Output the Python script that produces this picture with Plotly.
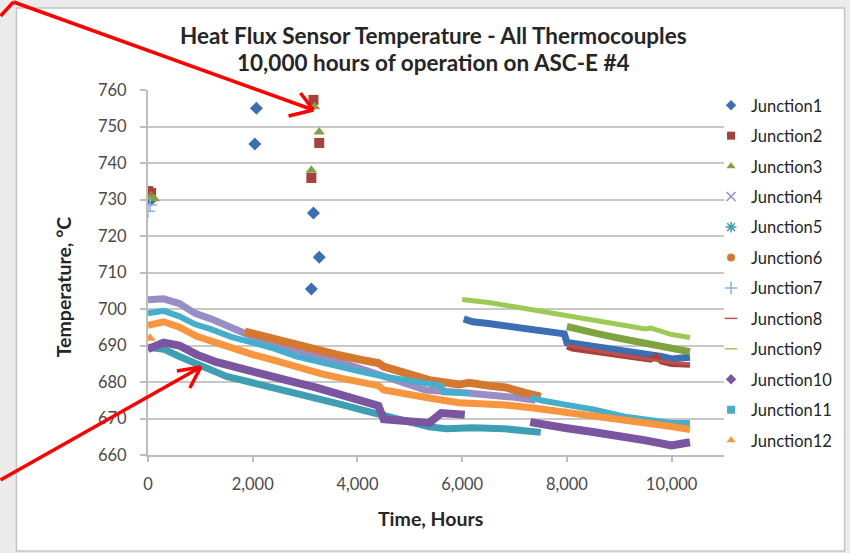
import plotly.graph_objects as go

# ---------------- data ----------------
names = ["Junction%d" % i for i in range(1, 13)]
colors = ["#3C6EB4", "#A8403C", "#7FA33F", "#9A8CC4", "#3E9FB2", "#D4772F",
          "#8EB0DC", "#C0504D", "#9CCB55", "#7B55A0", "#46AECB", "#F7963E"]
symbols = ["diamond", "square", "triangle-up", "x-thin-open", "asterisk-open", "circle",
           "cross-thin-open", "line-ew-open", "line-ew-open", "diamond", "square", "triangle-up"]

# isolated points (hours, degC)
J1_pts_x = [0, 60, 2040, 2070, 3120, 3160, 3270]
J1_pts_y = [730.5, 730.0, 745.2, 755.0, 705.5, 726.3, 714.2]
J2_pts_x = [0, 60, 3120, 3160, 3270]
J2_pts_y = [732.3, 731.8, 735.9, 757.3, 745.5]
J3_pts_x = [0, 60, 120, 3120, 3180, 3270]
J3_pts_y = [730.6, 731.0, 730.2, 738.0, 755.4, 748.5]
J7_pts_x = [0, 40]
J7_pts_y = [726.8, 728.5]
J8_pts_x = [0]
J8_pts_y = [731.5]
J12_pts_x = [40]
J12_pts_y = [692.0]

# dense bands (hours, degC)
J1_x = [6030, 6200, 6500, 6800, 7100, 7400, 7700, 7950, 8000, 8300, 8600, 8900, 9200, 9500, 9800, 10000, 10200, 10350]
J1_y = [697.3, 696.5, 696.0, 695.4, 694.8, 694.2, 693.6, 693.2, 690.8, 690.2, 689.5, 689.0, 688.3, 687.9, 687.0, 686.3, 686.4, 686.8]
J2_x = [8000, 8100, 8400, 8800, 9200, 9600, 9700, 9800, 10000, 10200, 10350]
J2_y = [689.6, 689.0, 688.4, 687.6, 686.8, 686.0, 687.2, 685.5, 684.8, 684.5, 684.6]
J3_x = [8000, 8300, 8600, 9000, 9400, 9800, 10100, 10350]
J3_y = [695.2, 694.0, 693.2, 692.0, 691.0, 690.0, 689.0, 688.3]
J4_x = [0, 300, 600, 900, 1200, 1500, 1800, 2100, 2500, 2900, 3300, 3700, 4100, 4500, 4900, 5300, 6100, 6600, 7000, 7400]
J4_y = [702.5, 702.8, 701.5, 698.8, 697.3, 695.3, 693.5, 691.8, 690.2, 688.7, 687.0, 685.3, 683.5, 681.5, 679.5, 677.8, 677.0, 676.5, 675.8, 675.0]
J5_x = [0, 300, 600, 900, 1200, 1500, 2000, 2400, 2830, 3300, 3700, 4100, 4600, 5000, 5370, 5700, 6200, 6800, 7300, 7500]
J5_y = [689.5, 689.0, 687.0, 685.0, 683.2, 681.5, 679.8, 678.5, 677.0, 675.3, 673.8, 672.3, 670.3, 669.0, 667.7, 667.2, 667.5, 667.2, 666.5, 666.2]
J6_x = [1850, 2200, 2500, 2830, 3200, 3600, 4100, 4400, 4500, 4900, 5370, 5940, 6130, 6500, 6830, 7200, 7500]
J6_y = [693.8, 692.5, 691.3, 690.2, 688.9, 687.5, 686.0, 685.2, 684.2, 682.3, 680.5, 679.3, 679.8, 679.0, 678.5, 677.0, 676.0]
J8_x = [8000, 9000, 10000, 10350]
J8_y = [690.0, 687.5, 685.3, 685.0]
J9_x = [6000, 6500, 7000, 7500, 8000, 8500, 9000, 9500, 9600, 10000, 10350]
J9_y = [702.6, 701.8, 700.6, 699.4, 698.2, 697.0, 695.8, 694.5, 694.8, 693.0, 692.2]
J10_x = [0, 300, 600, 930, 1300, 1670, 2000, 2400, 2830, 3200, 3600, 4100, 4400, 4500, 4900, 5370, 5600, 6050, None,
         7300, 7600, 7970, 8500, 9000, 9500, 10000, 10350]
J10_y = [689.0, 690.8, 690.0, 687.5, 685.5, 684.0, 683.0, 681.5, 679.8, 678.5, 677.0, 675.0, 673.5, 669.8, 669.3, 668.8, 671.5, 671.0, None,
         669.0, 668.5, 667.4, 666.3, 665.3, 664.0, 662.6, 663.5]
J11_x = [0, 300, 600, 900, 1200, 1600, 2000, 2400, 2830, 3300, 3700, 4100, 4500, 4900, 5370, 5600, 5650, 6000, 6150, None,
         7300, 7500, 7970, 8500, 9110, 9500, 10000, 10350]
J11_y = [698.8, 699.5, 698.0, 695.8, 694.5, 692.3, 690.8, 689.2, 687.0, 685.3, 684.0, 682.7, 681.5, 680.5, 679.7, 679.0, 677.2, 677.0, 677.0, None,
         675.8, 675.0, 673.8, 672.5, 670.5, 669.6, 668.8, 668.8]
J12_x = [0, 300, 600, 930, 1300, 1670, 2000, 2400, 2830, 3300, 3700, 4100, 4400, 4500, 4900, 5370, 5940, 6400, 6830, 7400,
         7970, 8500, 9110, 9600, 10000, 10350]
J12_y = [695.5, 696.5, 695.0, 692.5, 690.8, 688.8, 687.5, 686.0, 684.0, 682.3, 681.0, 679.8, 679.0, 677.8, 677.0, 675.6, 674.3, 674.2, 673.7, 672.8,
         671.8, 670.8, 669.6, 668.8, 667.8, 667.0]

x_ticks = [0, 2000, 4000, 6000, 8000, 10000]
x_ticktext = ["0", "2,000", "4,000", "6,000", "8,000", "10,000"]
y_ticks = [660, 670, 680, 690, 700, 710, 720, 730, 740, 750, 760]

title_line1 = "Heat Flux Sensor Temperature - All Thermocouples"
title_line2 = "10,000 hours of operation on ASC-E #4"
x_title = "Time, Hours"
y_title = "Temperature, °C"

# ---------------- geometry helpers (pixels -> paper) ----------------
W, H = 850, 553
L, R, T, B = 148, 726, 90, 455


def PX(px):
    return (px - L) / (R - L)


def PY(py):
    return (B - py) / (B - T)


FONT = "Lato"
fig = go.Figure()

THIN = ("x-thin-open", "asterisk-open", "cross-thin-open", "line-ew-open")

# legend entries (markers only, as in the spreadsheet legend)
for i, n in enumerate(names):
    msize = 8
    mline = dict(width=0)
    if symbols[i] in THIN:
        mline = dict(width=1.5, color=colors[i])
        msize = 9
    fig.add_trace(go.Scatter(x=[None], y=[None], mode="markers", name=n, legendgroup=n,
                             marker=dict(symbol=symbols[i], color=colors[i], size=msize, line=mline)))

bands = {
    "Junction1": (J1_x, J1_y, 7), "Junction2": (J2_x, J2_y, 5), "Junction3": (J3_x, J3_y, 7),
    "Junction4": (J4_x, J4_y, 7), "Junction5": (J5_x, J5_y, 7), "Junction6": (J6_x, J6_y, 8),
    "Junction8": (J8_x, J8_y, 3), "Junction9": (J9_x, J9_y, 5), "Junction10": (J10_x, J10_y, 8),
    "Junction11": (J11_x, J11_y, 6), "Junction12": (J12_x, J12_y, 7),
}
points = {
    "Junction1": (J1_pts_x, J1_pts_y), "Junction2": (J2_pts_x, J2_pts_y), "Junction3": (J3_pts_x, J3_pts_y),
    "Junction7": (J7_pts_x, J7_pts_y), "Junction8": (J8_pts_x, J8_pts_y), "Junction12": (J12_pts_x, J12_pts_y),
}

for i, n in enumerate(names):
    if n in bands:
        bx, by, w = bands[n]
        fig.add_trace(go.Scatter(x=bx, y=by, mode="lines", legendgroup=n, showlegend=False, name=n,
                                 line=dict(color=colors[i], width=w), connectgaps=False))
    if n in points:
        qx, qy = points[n]
        mline = dict(width=0)
        if symbols[i] in THIN:
            mline = dict(width=1.5, color=colors[i])
        fig.add_trace(go.Scatter(x=qx, y=qy, mode="markers", legendgroup=n, showlegend=False, name=n,
                                 marker=dict(symbol=symbols[i], color=colors[i], size=10, line=mline)))

shapes = []
# white chart frame on grey page
shapes.append(dict(type="rect", xref="paper", yref="paper", layer="below",
                   x0=PX(16), x1=PX(847), y0=PY(551), y1=PY(8),
                   fillcolor="white", line=dict(color="#c4c4c4", width=1.5)))


def seg(x0, y0, x1, y1, w=3.5):
    shapes.append(dict(type="line", xref="paper", yref="paper", layer="above",
                       x0=PX(x0), y0=PY(y0), x1=PX(x1), y1=PY(y1),
                       line=dict(color="#FF0000", width=w)))


# red call-out arrows
seg(13, 2, 314, 110)
seg(314, 110, 289, 116)
seg(314, 110, 301, 93)
seg(13, 2, 0, 16)
seg(0, 480, 201, 367)
seg(201, 367, 177, 371)
seg(201, 367, 190, 388)

annotations = [
    dict(text=title_line1, xref="paper", yref="paper", x=PX(434), y=PY(36), showarrow=False,
         xanchor="center", yanchor="middle", font=dict(family=FONT, size=22.5, color="#262626", weight="bold")),
    dict(text=title_line2, xref="paper", yref="paper", x=PX(434), y=PY(63), showarrow=False,
         xanchor="center", yanchor="middle", font=dict(family=FONT, size=22.5, color="#262626", weight="bold")),
    dict(text=x_title, xref="paper", yref="paper", x=PX(431), y=PY(518), showarrow=False,
         xanchor="center", yanchor="middle", font=dict(family=FONT, size=19.5, color="#262626", weight="bold")),
    dict(text=y_title, xref="paper", yref="paper", x=PX(63), y=PY(287), showarrow=False, textangle=-90,
         xanchor="center", yanchor="middle", font=dict(family=FONT, size=19.5, color="#262626", weight="bold")),
]

fig.update_layout(
    width=W, height=H,
    margin=dict(l=L, r=W - R, t=T, b=H - B, pad=0),
    paper_bgcolor="#ebebeb", plot_bgcolor="rgba(0,0,0,0)",
    font=dict(family=FONT, color="#404040"),
    showlegend=True,
    legend=dict(x=PX(713), y=PY(88), xanchor="left", yanchor="top", bgcolor="rgba(0,0,0,0)",
                font=dict(family=FONT, size=16.5, color="#262626"), tracegroupgap=6,
                itemwidth=30, traceorder="grouped", maxheight=520),
    shapes=shapes, annotations=annotations,
    xaxis=dict(range=[0, 11000], tickvals=x_ticks, ticktext=x_ticktext, showgrid=False,
               showline=True, linecolor="#bdbdbd", linewidth=2, ticks="outside", ticklen=5,
               tickcolor="#bdbdbd", tickwidth=1.5, zeroline=False, ticklabelstandoff=8,
               tickfont=dict(family=FONT, size=16.5, color="#4a4a4a")),
    yaxis=dict(range=[660, 760], tickvals=y_ticks, showgrid=True, gridcolor="#c8c8c8", gridwidth=2,
               showline=True, linecolor="#bdbdbd", linewidth=2, ticks="outside", ticklen=6,
               tickcolor="#bdbdbd", tickwidth=1.5, zeroline=False, ticklabelstandoff=10,
               tickfont=dict(family=FONT, size=16.5, color="#4a4a4a")),
)

fig.write_html("out.html")
